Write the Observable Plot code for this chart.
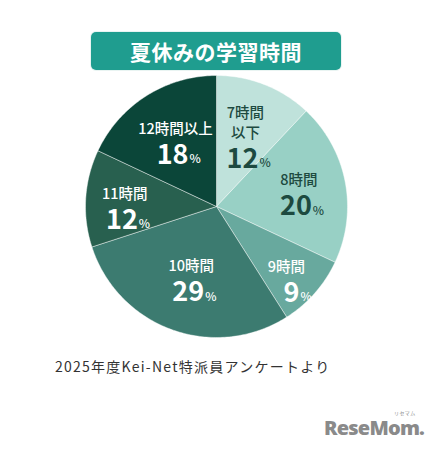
<!DOCTYPE html>
<html lang="ja">
<head>
<meta charset="utf-8">
<script src="https://cdn.jsdelivr.net/npm/d3@7"></script>
<script src="https://cdn.jsdelivr.net/npm/@observablehq/plot@0.6"></script>
<style>
  html, body { margin: 0; padding: 0; background: #fff; }
  body { width: 436px; height: 453px; position: relative; overflow: hidden;
         font-family: "Noto Sans CJK JP", "Noto Sans", sans-serif; }
  #title { position: absolute; left: 91px; top: 32px; width: 250px; height: 38px;
           background: #1f9d8f; border-radius: 5px; color: #fff; font-weight: 700;
           font-size: 21px; line-height: 38px; text-align: center; letter-spacing: 0.5px;
           box-shadow: 0 0 0 1px #e9f4f2; }
  #chart { position: absolute; left: 0; top: 66px; }
  #caption { position: absolute; left: 55px; top: 356px; font-size: 14px; color: #333;
             letter-spacing: 1.25px; white-space: nowrap; }
  #logo { position: absolute; left: 324px; top: 418px; color: #8a8a8a; font-family: "Open Sans", sans-serif;
          font-weight: 800; font-size: 20px; line-height: 20px; letter-spacing: -0.8px; }
  #logo small { position: absolute; left: 70px; top: -8px; font-size: 5px; line-height: 6px; font-weight: 400;
                font-family: "Noto Sans CJK JP", sans-serif; letter-spacing: 0.4px; }
</style>
</head>
<body>
<div id="title">夏休みの学習時間</div>
<div id="chart"></div>
<div id="caption">2025年度Kei-Net特派員アンケートより</div>
<div id="logo">ReseMom.<small>リセマム</small></div>
<script>
// Share of students by daily study hours during summer break (percent)
const categories = ["7時間以下", "8時間", "9時間", "10時間", "11時間", "12時間以上"];
const nameLines = [["7時間", "以下"], ["8時間"], ["9時間"], ["10時間"], ["11時間"], ["12時間以上"]];
const shares = [12, 20, 9, 29, 12, 18];
const sliceColors = ["#bfe2db", "#98d0c5", "#68a99e", "#3c7b70", "#28604f", "#0b4639"];
const labelInk = ["#1d4a40", "#1d4a40", "#fff", "#fff", "#fff", "#fff"];

// label placement: distance from centre (fraction of radius) and a small
// angular nudge (degrees, clockwise) away from the wedge's middle
const labelRadius = {"7時間以下": 0.6, "8時間": 0.64, "9時間": 0.76, "10時間": 0.57, "11時間": 0.7, "12時間以上": 0.6};
const labelNudge = {"9時間": 4, "11時間": -2, "12時間以上": 1};

const W = 436, H = 280, R = 131, CX = 216, CY = 140;

const total = d3.sum(shares);
let acc = 0;
const slices = categories.map((c, i) => {
  const a0 = acc / total * 2 * Math.PI;
  acc += shares[i];
  const a1 = acc / total * 2 * Math.PI;
  return {category: c, value: shares[i], a0, a1, mid: (a0 + a1) / 2, i};
});

// polygon outline of each wedge: centre, arc (clockwise from 12 o'clock), centre
const outline = slices.flatMap(s => {
  const n = Math.max(2, Math.ceil((s.a1 - s.a0) / (Math.PI / 180)));
  const pts = [{category: s.category, x: 0, y: 0}];
  for (let k = 0; k <= n; k++) {
    const a = s.a0 + (s.a1 - s.a0) * k / n;
    pts.push({category: s.category, x: Math.sin(a), y: Math.cos(a)});
  }
  pts.push({category: s.category, x: 0, y: 0});
  return pts;
});

// text rows for every wedge label; line offsets are in pixels, turned into
// data units (one unit of the scale is one radius)
const rows = [];
slices.forEach(s => {
  const r = labelRadius[s.category];
  const a = s.mid + (labelNudge[s.category] || 0) * Math.PI / 180;
  const cx = r * Math.sin(a), cy = r * Math.cos(a);
  const lines = nameLines[s.i];
  const blockH = lines.length * 20 + 28;
  const top = -blockH / 2 + 4;
  const at = px => cy - px / R;
  lines.forEach((t, j) => rows.push({x: cx, y: at(top + 10 + j * 20), text: t, kind: "name", ink: labelInk[s.i]}));
  rows.push({x: cx, y: at(top + lines.length * 20 + 16), text: String(s.value), kind: "num", ink: labelInk[s.i]});
  rows.push({x: cx, y: at(top + lines.length * 20 + 20), text: "%", kind: "pct", ink: labelInk[s.i]});
});

const chart = Plot.plot({
  width: W,
  height: H,
  marginLeft: CX - R,
  marginRight: W - CX - R,
  marginTop: CY - R,
  marginBottom: H - CY - R,
  x: {domain: [-1, 1], axis: null},
  y: {domain: [-1, 1], axis: null},
  color: {domain: categories, range: sliceColors},
  style: {fontFamily: "'Noto Sans CJK JP', 'Noto Sans', sans-serif", background: "transparent"},
  marks: [
    Plot.line(outline, {x: "x", y: "y", z: "category", fill: "category", stroke: "#ffffff",
                        strokeWidth: 0.8, strokeOpacity: 0.55, strokeLinejoin: "round"}),
    Plot.text(rows.filter(d => d.kind === "name"), {x: "x", y: "y", text: "text",
      fill: d => d.ink, fontSize: 14.5, fontWeight: 500, textAnchor: "middle"}),
    Plot.text(rows.filter(d => d.kind === "num"), {x: "x", y: "y", text: "text",
      dx: 13, fill: d => d.ink, fontSize: 27, fontWeight: 700, textAnchor: "end", letterSpacing: -0.5}),
    Plot.text(rows.filter(d => d.kind === "pct"), {x: "x", y: "y", text: "text",
      dx: 14, fill: d => d.ink, fontSize: 12, fontWeight: 500, textAnchor: "start"})
  ]
});
document.getElementById("chart").appendChild(chart);
</script>
</body>
</html>
